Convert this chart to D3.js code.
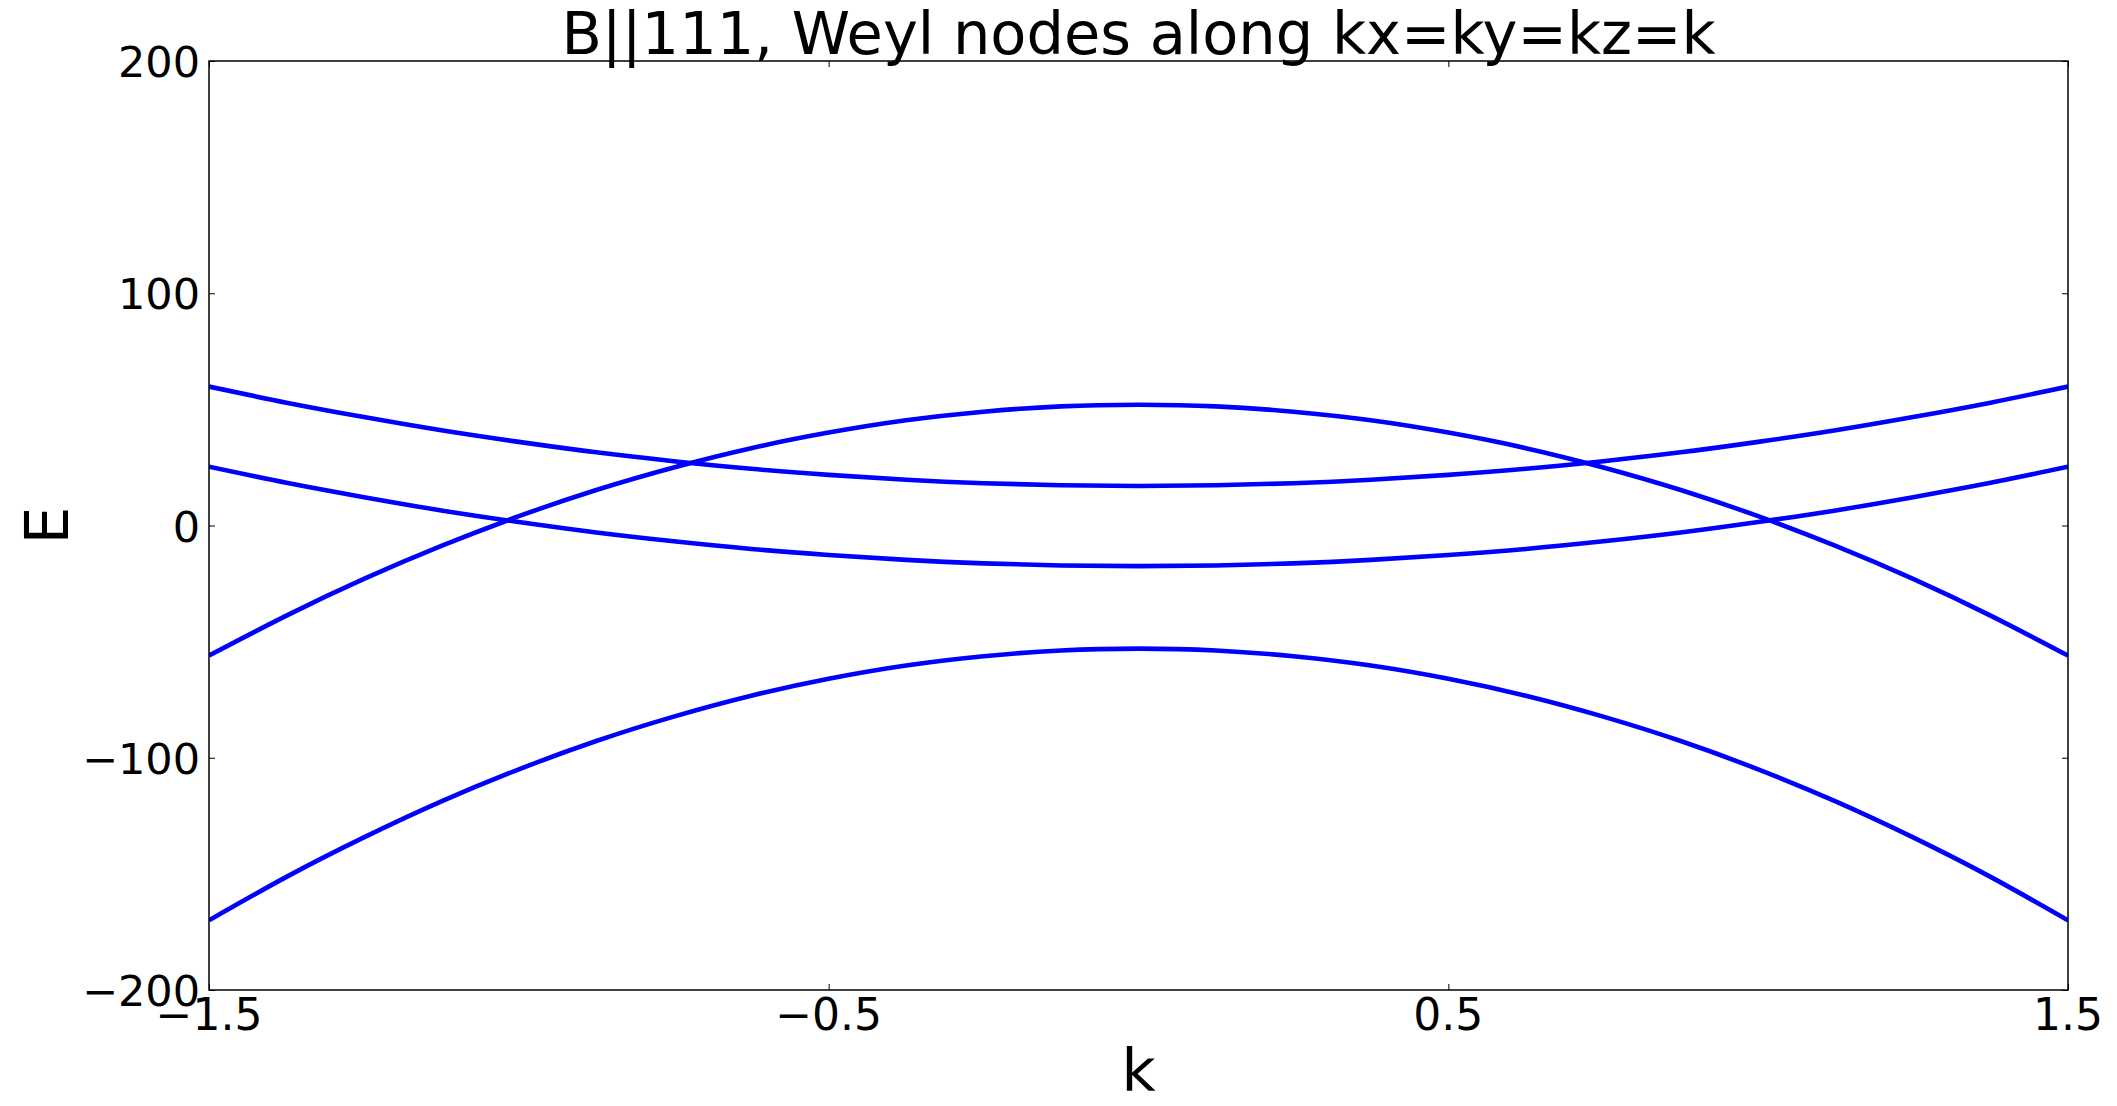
<!DOCTYPE html>
<html>
<head>
<meta charset="utf-8">
<script src="https://cdn.jsdelivr.net/npm/d3@7"></script>
<style>
  html, body { margin: 0; padding: 0; background: #fff; }
  svg { display: block; }
  text { font-family: "DejaVu Sans", sans-serif; fill: #000; }
</style>
</head>
<body>
<svg id="chart" width="2117" height="1106"></svg>
<script>
// ---- data ----
const kValues = [-1.5, -1.375, -1.25, -1.125, -1.0, -0.875, -0.75, -0.625, -0.5, -0.375, -0.25, -0.125, 0,
                  0.125, 0.25, 0.375, 0.5, 0.625, 0.75, 0.875, 1.0, 1.125, 1.25, 1.375, 1.5];
const band1 = [59.8, 52.9, 46.7, 41.0, 36.0, 31.5, 27.7, 24.4, 21.8, 19.7, 18.2, 17.3, 17.0,
               17.3, 18.2, 19.7, 21.8, 24.4, 27.7, 31.5, 36.0, 41.0, 46.7, 52.9, 59.8];
const band2 = [25.3, 18.4, 12.2, 6.5, 1.5, -3.0, -6.8, -10.1, -12.7, -14.8, -16.3, -17.2, -17.5,
               -17.2, -16.3, -14.8, -12.7, -10.1, -6.8, -3.0, 1.5, 6.5, 12.2, 18.4, 25.3];
const band3 = [-56.0, -38.8, -23.0, -8.8, 4.0, 15.3, 25.0, 33.3, 40.0, 45.3, 49.0, 51.3, 52.0,
               51.3, 49.0, 45.3, 40.0, 33.3, 25.0, 15.3, 4.0, -8.8, -23.0, -38.8, -56.0];
const band4 = [-170.0, -151.3, -134.3, -118.8, -105.0, -92.8, -82.3, -73.3, -66.0, -60.3, -56.3, -53.8, -53.0,
               -53.8, -56.3, -60.3, -66.0, -73.3, -82.3, -92.8, -105.0, -118.8, -134.3, -151.3, -170.0];
const xTicks = [-1.5, -0.5, 0.5, 1.5];
const xTickLabels = ["\u22121.5", "\u22120.5", "0.5", "1.5"];
const yTicks = [-200, -100, 0, 100, 200];
const yTickLabels = ["\u2212200", "\u2212100", "0", "100", "200"];
const titleText = "B||111, Weyl nodes along kx=ky=kz=k";
const xLabel = "k";
const yLabel = "E";

// ---- layout ----
const L = 209, R = 2068, T = 61, B = 990;
const svg = d3.select("#chart");
const x = d3.scaleLinear().domain([-1.5, 1.5]).range([L, R]);
const y = d3.scaleLinear().domain([-200, 200]).range([B, T]);

svg.append("defs").append("clipPath").attr("id", "plotclip")
  .append("rect").attr("x", L).attr("y", T).attr("width", R - L).attr("height", B - T);

// lines
const line = d3.line().x((d, i) => x(kValues[i])).y(d => y(d)).curve(d3.curveNatural);
const g = svg.append("g").attr("clip-path", "url(#plotclip)");
[band1, band2, band3, band4].forEach(b => {
  g.append("path").datum(b).attr("d", line)
    .attr("fill", "none").attr("stroke", "#0000ff").attr("stroke-width", 4.6)
    .attr("stroke-linejoin", "round");
});

// axes with inward ticks on all four sides
const tickLen = 6;
const axB = d3.axisBottom(x).tickValues(xTicks).tickSize(-tickLen).tickFormat("");
const axT = d3.axisTop(x).tickValues(xTicks).tickSize(-tickLen).tickFormat("");
const axL = d3.axisLeft(y).tickValues(yTicks).tickSize(-tickLen).tickFormat("");
const axR = d3.axisRight(y).tickValues(yTicks).tickSize(-tickLen).tickFormat("");
[[axB, `translate(0,${B})`], [axT, `translate(0,${T})`], [axL, `translate(${L},0)`], [axR, `translate(${R},0)`]]
  .forEach(([ax, tr]) => {
    const a = svg.append("g").attr("transform", tr).call(ax);
    a.select(".domain").remove();
    a.selectAll("line").attr("stroke", "#000").attr("stroke-width", 1);
  });

// frame
svg.append("rect").attr("x", L).attr("y", T).attr("width", R - L).attr("height", B - T)
  .attr("fill", "none").attr("stroke", "#000").attr("stroke-width", 1.5);

// tick labels
svg.append("g").selectAll("text").data(xTicks).join("text")
  .attr("x", d => x(d)).attr("y", 1030).attr("text-anchor", "middle")
  .attr("font-size", 44).text((d, i) => xTickLabels[i]);
svg.append("g").selectAll("text").data(yTicks).join("text")
  .attr("x", 200).attr("y", d => y(d) + 16).attr("text-anchor", "end")
  .attr("font-size", 43).text((d, i) => yTickLabels[i]);

// title and axis labels
svg.append("text").attr("x", (L + R) / 2).attr("y", 54).attr("text-anchor", "middle")
  .attr("font-size", 59).text(titleText);
svg.append("text").attr("x", (L + R) / 2).attr("y", 1091).attr("text-anchor", "middle")
  .attr("font-size", 59).text(xLabel);
svg.append("text").attr("transform", `translate(68,${(T + B) / 2}) rotate(-90)`)
  .attr("text-anchor", "middle").attr("font-size", 60).text(yLabel);
</script>
</body>
</html>
